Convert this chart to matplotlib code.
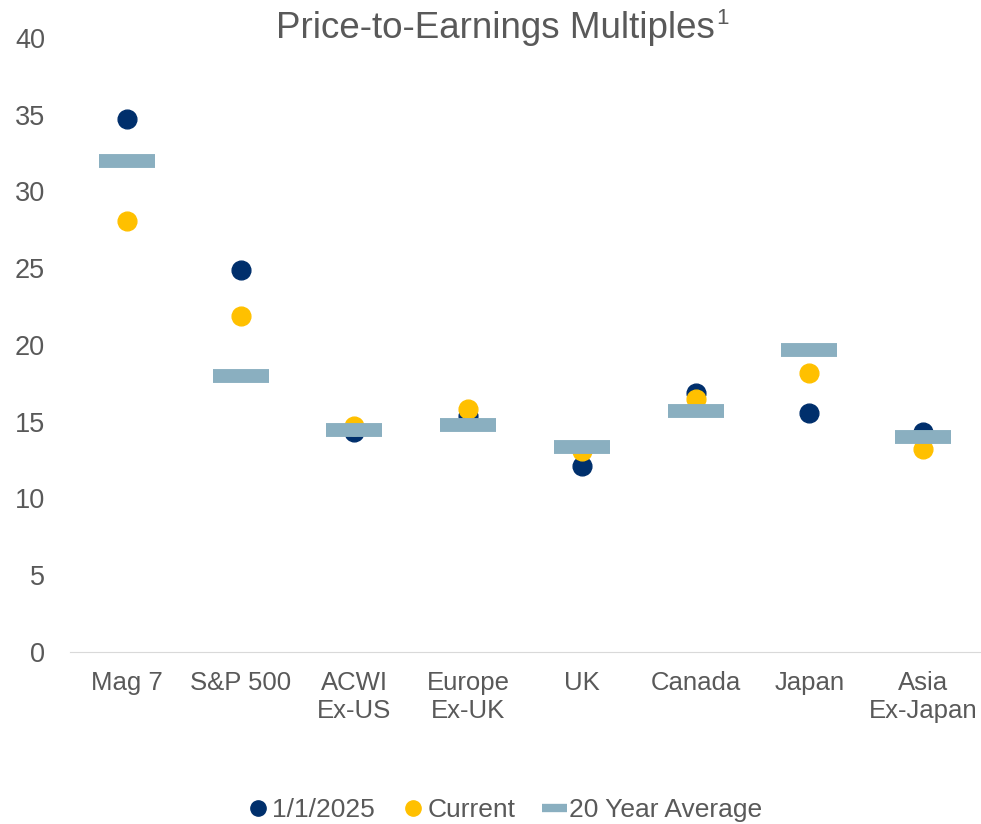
import matplotlib.pyplot as plt
from matplotlib.lines import Line2D

categories = ['Mag 7', 'S&P 500', 'ACWI\nEx-US', 'Europe\nEx-UK', 'UK', 'Canada', 'Japan', 'Asia\nEx-Japan']
pe_2025 = [34.7, 24.9, 14.3, 15.4, 12.1, 16.9, 15.6, 14.3]
pe_current = [28.1, 21.9, 14.7, 15.8, 13.1, 16.5, 18.2, 13.2]
pe_avg20 = [32.0, 18.0, 14.45, 14.8, 13.35, 15.7, 19.7, 14.0]

navy = '#002F6C'
gold = '#FFC000'
steel = '#8AAFC0'
grey = '#595959'

plt.rcParams['font.family'] = ['Liberation Sans', 'DejaVu Sans']

fig = plt.figure(figsize=(9.81, 8.24), dpi=100)
ax = fig.add_axes([0.0714, 0.2087, 0.9276, 0.7453])

x = list(range(len(categories)))
ax.plot(x, pe_2025, 'o', color=navy, markersize=13.5, zorder=2)
ax.plot(x, pe_current, 'o', color=gold, markersize=13.5, zorder=3)
ax.plot(x, pe_avg20, linestyle='none', marker='_', color=steel,
        markersize=41, markeredgewidth=10, zorder=4)

ax.set_xlim(-0.5, len(categories) - 0.5)
ax.set_ylim(0, 40)
ax.set_yticks(range(0, 41, 5))
ax.set_xticks(x)
ax.set_xticklabels(categories, linespacing=1.2)
ax.tick_params(axis='both', length=0, colors=grey)
ax.tick_params(axis='x', pad=14, labelsize=18.5)
ax.tick_params(axis='y', pad=18, labelsize=19.5)
for s in ['top', 'right', 'left']:
    ax.spines[s].set_visible(False)
ax.spines['bottom'].set_color('#D9D9D9')

# title with a small superscript drawn as its own text
t = fig.text(0.505, 0.966, 'Price-to-Earnings Multiples', ha='center', va='center',
             fontsize=26.5, color=grey)
fig.canvas.draw()
bb = t.get_window_extent()
fig.text(bb.x1 / fig.bbox.width + 0.001, 0.977, '1', ha='left', va='center',
         fontsize=16, color=grey)

handles = [
    Line2D([], [], linestyle='none', marker='o', color=navy, markersize=11),
    Line2D([], [], linestyle='none', marker='o', color=gold, markersize=11),
    Line2D([], [], linestyle='none', marker='_', color=steel, markersize=18, markeredgewidth=6),
]
fig.legend(handles, ['1/1/2025', 'Current', '20 Year Average'], loc='center',
           bbox_to_anchor=(0.513, 0.017), ncol=3, frameon=False, fontsize=19,
           labelcolor=grey, handletextpad=0.05, columnspacing=0.95, handlelength=1.0)

fig.savefig('out.png', dpi=100)
